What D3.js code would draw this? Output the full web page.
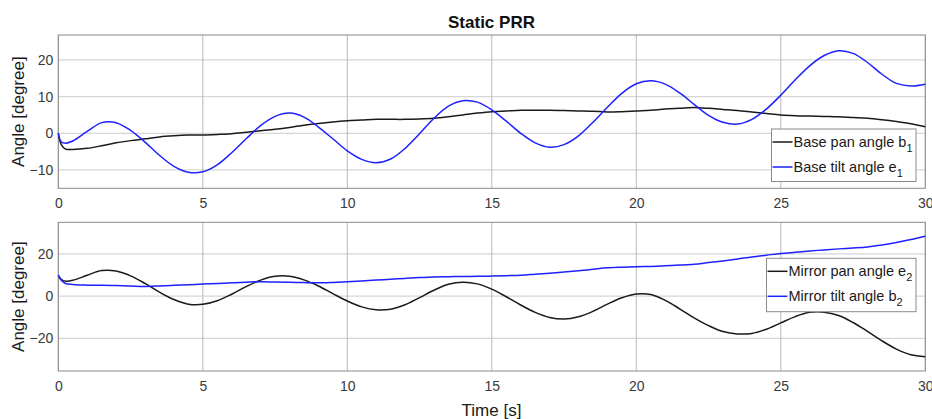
<!DOCTYPE html>
<html>
<head>
<meta charset="utf-8">
<script src="https://cdn.jsdelivr.net/npm/d3@7"></script>
<style>
  body { margin: 0; background: #fff; }
  svg text { font-family: "Liberation Sans", Arial, sans-serif; }
</style>
</head>
<body>
<div id="chart"></div>
<script>
// time samples [s]
const time = [0, 0.1, 0.25, 0.5, 1, 1.5, 2, 2.5, 3, 3.5, 4, 4.5, 5, 5.5, 6, 6.5, 7, 7.5, 8, 8.5, 9, 9.5,
  10, 10.5, 11, 11.5, 12, 12.5, 13, 13.5, 14, 14.5, 15, 15.5, 16, 16.5, 17, 17.5, 18, 18.5, 19, 19.5,
  20, 20.5, 21, 21.5, 22, 22.5, 23, 23.5, 24, 24.5, 25, 25.5, 26, 26.5, 27, 27.5, 28, 28.5, 29, 29.5, 30];

// top panel
const basePan = [0, -3.0, -4.3, -4.4, -4.1, -3.4, -2.6, -2.0, -1.5, -1.0, -0.7, -0.5, -0.45, -0.3, -0.1, 0.3, 0.7, 1.1, 1.6, 2.2, 2.7, 3.1,
  3.4, 3.6, 3.8, 3.8, 3.8, 3.9, 4.1, 4.5, 5.0, 5.5, 5.9, 6.1, 6.3, 6.3, 6.3, 6.2, 6.1, 6.0, 5.8, 5.9,
  6.1, 6.3, 6.6, 6.8, 7.0, 6.8, 6.5, 6.2, 5.8, 5.4, 5.0, 4.8, 4.7, 4.6, 4.5, 4.3, 4.1, 3.7, 3.2, 2.6, 1.8];
const baseTilt = [0, -2.3, -2.7, -2.1, 0.5, 2.9, 2.9, 0.8, -2.4, -6.0, -9.0, -10.6, -10.5, -8.6, -5.3, -1.5, 2.1, 4.6, 5.5, 4.4, 1.7, -1.5,
  -4.8, -7.1, -8.0, -7.0, -4.1, -0.1, 4.1, 7.4, 8.9, 8.5, 6.4, 3.3, 0.0, -2.6, -3.8, -3.1, -0.7, 3.0, 7.1, 10.9,
  13.5, 14.3, 13.4, 11.0, 7.9, 4.9, 3.0, 2.5, 3.8, 6.6, 10.4, 14.6, 18.4, 21.2, 22.5, 21.8, 19.3, 16.1, 13.6, 12.9, 13.4];

// bottom panel
const mirrorPan = [9.9, 8.0, 7.1, 7.5, 9.9, 12.1, 11.9, 9.6, 6.0, 1.9, -1.6, -3.8, -3.9, -2.2, 0.9, 4.5, 7.6, 9.4, 9.4, 7.7, 4.8, 1.2,
  -2.3, -5.1, -6.5, -6.2, -4.1, -0.7, 2.8, 5.6, 6.6, 5.8, 3.3, -0.3, -4.2, -7.7, -10.1, -10.9, -9.8, -7.2, -3.8, -0.8,
  1.0, 0.8, -2.0, -6.0, -10.3, -14.0, -16.8, -17.9, -17.7, -15.7, -12.7, -9.7, -7.7, -7.6, -9.2, -12.5, -16.7, -21.2, -25.1, -27.8, -28.7];
const mirrorTilt = [9.9, 7.5, 6.0, 5.5, 5.2, 5.1, 5.0, 4.8, 4.6, 4.8, 5.1, 5.4, 5.7, 6.0, 6.3, 6.6, 6.8, 6.7, 6.6, 6.4, 6.3, 6.5,
  6.8, 7.2, 7.6, 8.0, 8.4, 8.8, 9.1, 9.2, 9.3, 9.4, 9.5, 9.7, 9.9, 10.4, 10.9, 11.4, 12.0, 12.7, 13.4, 13.7,
  13.9, 14.1, 14.4, 14.7, 15.1, 15.9, 16.7, 17.6, 18.6, 19.4, 20.2, 20.8, 21.4, 21.9, 22.4, 22.8, 23.3, 24.2, 25.4, 26.8, 28.4];

const xTicks = [0, 5, 10, 15, 20, 25, 30];
const topYTicks = [-10, 0, 10, 20];
const bottomYTicks = [-20, 0, 20];

const W = 932, H = 419;
const svg = d3.select("#chart").append("svg")
  .attr("width", W).attr("height", H);

const x = d3.scaleLinear().domain([0, 30]).range([58.3, 925.3]);

// Title
svg.append("text")
  .attr("x", 491.5).attr("y", 28)
  .attr("text-anchor", "middle")
  .style("font-size", "17px")
  .style("font-weight", "bold")
  .style("fill", "#111")
  .text("Static PRR");

function drawPanel(cfg) {
  const y = d3.scaleLinear().domain(cfg.domain).range([cfg.bottom, cfg.top]);
  const g = svg.append("g");

  // grid
  g.selectAll("line.hgrid").data(cfg.yTicks).enter().append("line")
    .attr("x1", x.range()[0]).attr("x2", x.range()[1])
    .attr("y1", d => y(d)).attr("y2", d => y(d))
    .attr("stroke", "#d6d6d6").attr("stroke-width", 1.3);
  g.selectAll("line.vgrid").data(xTicks).enter().append("line")
    .attr("x1", d => x(d)).attr("x2", d => x(d))
    .attr("y1", cfg.top).attr("y2", cfg.bottom)
    .attr("stroke", "#b8b8b8").attr("stroke-width", 1);

  // axes
  const xAxis = g.append("g")
    .attr("transform", `translate(0,${cfg.bottom})`)
    .call(d3.axisBottom(x).tickValues(xTicks).tickSize(0).tickPadding(10));
  const yAxis = g.append("g")
    .attr("transform", `translate(${x.range()[0]},0)`)
    .call(d3.axisLeft(y).tickValues(cfg.yTicks).tickSize(0).tickPadding(5));
  [xAxis, yAxis].forEach(a => {
    a.select(".domain").remove();
    a.selectAll("text")
      .style("font-size", "14px")
      .style("fill", "#3a3a3a")
      .style("font-family", "'Liberation Sans', Arial, sans-serif");
  });
  xAxis.selectAll("text").attr("dy", "0.71em");

  // frame
  g.append("rect")
    .attr("x", x.range()[0]).attr("y", cfg.top)
    .attr("width", x.range()[1] - x.range()[0])
    .attr("height", cfg.bottom - cfg.top)
    .attr("fill", "none").attr("stroke", "#8a8a8a").attr("stroke-width", 1);

  // y label
  g.append("text")
    .attr("transform", `translate(24,${(cfg.top + cfg.bottom) / 2}) rotate(-90)`)
    .attr("text-anchor", "middle")
    .style("font-size", "17px")
    .style("fill", "#1a1a1a")
    .text("Angle [degree]");

  // lines
  const line = vals => d3.line()
    .x((d, i) => x(time[i]))
    .y(d => y(d))
    .curve(d3.curveCatmullRom.alpha(0.5))(vals);

  cfg.series.forEach(s => {
    g.append("path")
      .attr("d", line(s.values))
      .attr("fill", "none")
      .attr("stroke", s.color)
      .attr("stroke-width", 1.5);
  });

  // legend
  const L = cfg.legend;
  g.append("rect")
    .attr("x", L.x).attr("y", L.y)
    .attr("width", L.w).attr("height", L.h)
    .attr("fill", "#fff").attr("stroke", "#8a8a8a").attr("stroke-width", 1);
  cfg.series.forEach((s, i) => {
    const cy = L.y + 13 + i * 25;
    g.append("line")
      .attr("x1", L.x + 1).attr("x2", L.x + 21)
      .attr("y1", cy).attr("y2", cy)
      .attr("stroke", s.color).attr("stroke-width", 1.5);
    const t = g.append("text")
      .attr("x", L.x + 22).attr("y", cy + 5)
      .style("font-size", "14.5px")
      .style("fill", "#1a1a1a");
    t.append("tspan").text(s.name);
    t.append("tspan").attr("dy", 5).style("font-size", "11px").text(s.sub);
  });
}

drawPanel({
  top: 35, bottom: 188.3,
  domain: [-15, 26.8],
  yTicks: topYTicks,
  series: [
    { name: "Base pan angle b", sub: "1", values: basePan, color: "#1a1a1a" },
    { name: "Base tilt angle e", sub: "1", values: baseTilt, color: "#1f1fff" }
  ],
  legend: { x: 771.5, y: 129, w: 144.5, h: 52.5 }
});

drawPanel({
  top: 222.3, bottom: 371,
  domain: [-35.5, 35],
  yTicks: bottomYTicks,
  series: [
    { name: "Mirror pan angle e", sub: "2", values: mirrorPan, color: "#1a1a1a" },
    { name: "Mirror tilt angle b", sub: "2", values: mirrorTilt, color: "#1f1fff" }
  ],
  legend: { x: 766.5, y: 258.3, w: 149.5, h: 53.4 }
});

// x label
svg.append("text")
  .attr("x", 491.5).attr("y", 416)
  .attr("text-anchor", "middle")
  .style("font-size", "17px")
  .style("fill", "#1a1a1a")
  .text("Time [s]");
</script>
</body>
</html>
